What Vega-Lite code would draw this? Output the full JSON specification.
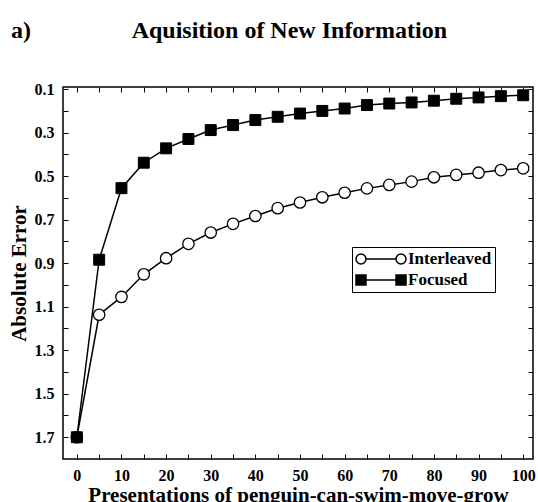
{
  "$schema": "https://vega.github.io/schema/vega-lite/v6.json",
  "width": 470,
  "height": 372,
  "autosize": {"type": "none"},
  "padding": {"left": 63, "top": 87, "right": 5, "bottom": 43},
  "background": "white",
  "title": {
    "text": "a)\u2003\u2003\u2003\u2003 Aquisition of New Information",
    "anchor": "start",
    "frame": "group",
    "dx": -52,
    "offset": 19,
    "baseline": "alphabetic",
    "font": "Liberation Serif",
    "fontSize": 24,
    "fontWeight": "bold",
    "color": "black"
  },
  "data": {
    "values": [
      {"series": "Interleaved", "x": 0, "err": 1.7},
      {"series": "Interleaved", "x": 5, "err": 1.137},
      {"series": "Interleaved", "x": 10, "err": 1.055},
      {"series": "Interleaved", "x": 15, "err": 0.951},
      {"series": "Interleaved", "x": 20, "err": 0.877},
      {"series": "Interleaved", "x": 25, "err": 0.811},
      {"series": "Interleaved", "x": 30, "err": 0.759},
      {"series": "Interleaved", "x": 35, "err": 0.719},
      {"series": "Interleaved", "x": 40, "err": 0.683},
      {"series": "Interleaved", "x": 45, "err": 0.647},
      {"series": "Interleaved", "x": 50, "err": 0.621},
      {"series": "Interleaved", "x": 55, "err": 0.597},
      {"series": "Interleaved", "x": 60, "err": 0.576},
      {"series": "Interleaved", "x": 65, "err": 0.556},
      {"series": "Interleaved", "x": 70, "err": 0.54},
      {"series": "Interleaved", "x": 75, "err": 0.525},
      {"series": "Interleaved", "x": 80, "err": 0.505},
      {"series": "Interleaved", "x": 85, "err": 0.494},
      {"series": "Interleaved", "x": 90, "err": 0.484},
      {"series": "Interleaved", "x": 95, "err": 0.472},
      {"series": "Interleaved", "x": 100, "err": 0.464},
      {"series": "Focused", "x": 0, "err": 1.7},
      {"series": "Focused", "x": 5, "err": 0.884},
      {"series": "Focused", "x": 10, "err": 0.555},
      {"series": "Focused", "x": 15, "err": 0.438},
      {"series": "Focused", "x": 20, "err": 0.372},
      {"series": "Focused", "x": 25, "err": 0.329},
      {"series": "Focused", "x": 30, "err": 0.288},
      {"series": "Focused", "x": 35, "err": 0.265},
      {"series": "Focused", "x": 40, "err": 0.242},
      {"series": "Focused", "x": 45, "err": 0.227},
      {"series": "Focused", "x": 50, "err": 0.212},
      {"series": "Focused", "x": 55, "err": 0.2},
      {"series": "Focused", "x": 60, "err": 0.189},
      {"series": "Focused", "x": 65, "err": 0.173},
      {"series": "Focused", "x": 70, "err": 0.166},
      {"series": "Focused", "x": 75, "err": 0.161},
      {"series": "Focused", "x": 80, "err": 0.153},
      {"series": "Focused", "x": 85, "err": 0.144},
      {"series": "Focused", "x": 90, "err": 0.138},
      {"series": "Focused", "x": 95, "err": 0.132},
      {"series": "Focused", "x": 100, "err": 0.128}
    ]
  },
  "layer": [
    {
      "mark": {"type": "point", "filled": true, "stroke": "black", "size": 1, "opacity": 1},
      "encoding": {
        "x": {"field": "x", "type": "quantitative", "axis": null},
        "y": {"field": "err", "type": "quantitative", "axis": null},
        "shape": {
          "field": "series", "type": "nominal",
          "scale": {
            "domain": ["Interleaved", "Focused"],
            "range": [
              "M-1,0A0.2,0.2 0 1,1 -0.6,0A0.2,0.2 0 1,1 -1,0Z M-0.6,0L0.6,0 M0.6,0A0.2,0.2 0 1,1 1,0A0.2,0.2 0 1,1 0.6,0Z",
              "M-1,-0.2L-0.6,-0.2L-0.6,0.2L-1,0.2Z M-0.6,0L0.6,0 M0.6,-0.2L1,-0.2L1,0.2L0.6,0.2Z"
            ]
          }
        },
        "fill": {
          "field": "series", "type": "nominal",
          "scale": {"domain": ["Interleaved", "Focused"], "range": ["white", "black"]},
          "legend": {
            "orient": "none",
            "legendX": 289,
            "legendY": 160,
            "title": null,
            "symbolSize": 2500,
            "symbolOpacity": 1,
            "clipHeight": 18,
            "rowPadding": 3,
            "padding": 3,
            "labelOffset": 1,
            "labelFont": "Liberation Serif",
            "labelFontSize": 17,
            "labelFontWeight": "bold",
            "labelColor": "black",
            "strokeColor": "black",
            "symbolStrokeColor": "black",
            "symbolStrokeWidth": 1.5
          }
        }
      }
    },
    {
      "mark": {"type": "line", "color": "black", "strokeWidth": 1.5},
      "encoding": {
        "x": {
          "field": "x", "type": "quantitative",
          "scale": {"domain": [-3.1, 102.2], "nice": false, "zero": false},
          "axis": {"orient": "top", "values": [0,5,10,15,20,25,30,35,40,45,50,55,60,65,70,75,80,85,90,95,100], "labels": false, "title": null}
        },
        "y": {
          "field": "err", "type": "quantitative",
          "scale": {"domain": [0.09, 1.8], "reverse": true, "nice": false, "zero": false},
          "axis": {"orient": "right", "values": [0.1,0.2,0.3,0.4,0.5,0.6,0.7,0.8,0.9,1.0,1.1,1.2,1.3,1.4,1.5,1.6,1.7], "labels": false, "title": null}
        },
        "detail": {"field": "series"}
      }
    },
    {
      "transform": [{"filter": "datum.series === 'Interleaved'"}],
      "mark": {"type": "point", "shape": "circle", "filled": true, "fill": "white", "size": 130, "stroke": "black", "strokeWidth": 1.3, "opacity": 1},
      "encoding": {
        "x": {
          "field": "x", "type": "quantitative",
          "axis": {
            "orient": "bottom",
            "values": [0,5,10,15,20,25,30,35,40,45,50,55,60,65,70,75,80,85,90,95,100],
            "labelExpr": "datum.value % 10 == 0 ? datum.label : ''",
            "title": "Presentations of penguin-can-swim-move-grow",
            "titleY": 42,
            "titleBaseline": "alphabetic",
            "titleFontSize": 21,
            "labelPadding": 13
          }
        },
        "y": {
          "field": "err", "type": "quantitative",
          "axis": {
            "orient": "left",
            "values": [0.1,0.2,0.3,0.4,0.5,0.6,0.7,0.8,0.9,1.0,1.1,1.2,1.3,1.4,1.5,1.6,1.7],
            "labelExpr": "round(datum.value*10) % 2 == 1 ? format(datum.value, '.1f') : ''",
            "title": "Absolute Error",
            "titleX": -38,
            "titleY": 186,
            "titleAngle": -90,
            "titleBaseline": "alphabetic",
            "titleFontSize": 21,
            "labelPadding": 14
          }
        }
      }
    },
    {
      "transform": [{"filter": "datum.series === 'Focused'"}],
      "mark": {"type": "point", "shape": "square", "filled": true, "fill": "black", "size": 120, "stroke": "black", "strokeWidth": 1, "opacity": 1},
      "encoding": {
        "x": {"field": "x", "type": "quantitative", "axis": null},
        "y": {"field": "err", "type": "quantitative", "axis": null}
      }
    }
  ],
  "resolve": {"axis": {"x": "independent", "y": "independent"}},
  "config": {
    "view": {"stroke": "black", "strokeWidth": 1.5},
    "axis": {
      "labelFont": "Liberation Serif",
      "labelFontSize": 16,
      "labelFontWeight": "bold",
      "labelColor": "black",
      "titleFont": "Liberation Serif",
      "titleFontWeight": "bold",
      "titleColor": "black",
      "domain": false,
      "grid": false,
      "tickColor": "black",
      "tickSize": -5,
      "tickWidth": 1
    }
  }
}
